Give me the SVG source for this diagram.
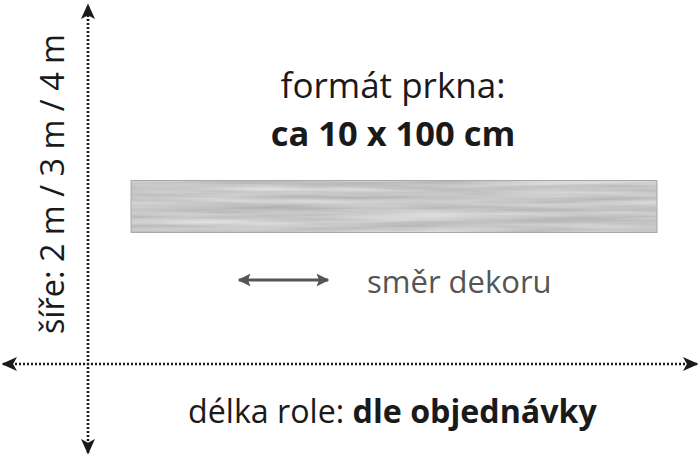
<svg xmlns="http://www.w3.org/2000/svg" width="700" height="459" viewBox="0 0 700 459">
<style>
.axis{stroke:#1a1a1a;stroke-width:2.6;stroke-dasharray:2 2;fill:none}
.t{font-family:"Open Sans","Liberation Sans",sans-serif;fill:#1a1a1a}
.b{font-weight:bold}
.g{fill:#555}
</style>
<defs>
<marker id="ah" viewBox="0 0 10 10" refX="9" refY="5" markerWidth="6" markerHeight="6" markerUnits="strokeWidth" orient="auto-start-reverse">
<path d="M0,0.5 L10,5 L0,9.5 L2.5,5 Z" fill="#1a1a1a"/>
</marker>
<marker id="gh" viewBox="0 0 10 10" refX="9" refY="5" markerWidth="4" markerHeight="4" markerUnits="strokeWidth" orient="auto-start-reverse">
<path d="M0,0 L10,5 L0,10 L2,5 Z" fill="#555"/>
</marker>
<filter id="wood" x="0" y="0" width="1" height="1" color-interpolation-filters="sRGB">
<feTurbulence type="fractalNoise" baseFrequency="0.006 0.16" numOctaves="3" seed="7" result="n"/>
<feColorMatrix in="n" type="matrix" values="0.25 0 0 0 0.66  0.25 0 0 0 0.66  0.25 0 0 0 0.66  0 0 0 0 1" result="c"/>
<feComposite in="c" in2="SourceGraphic" operator="in"/>
</filter>
</defs>
<g id="connectors">
<line class="axis" x1="88" y1="453" x2="88" y2="5" marker-end="url(#ah)" marker-start="url(#ah)"/>
<line class="axis" x1="3" y1="364" x2="697" y2="364" marker-end="url(#ah)" marker-start="url(#ah)"/>
<line x1="239" y1="280" x2="328" y2="280" stroke="#555" stroke-width="3.2" marker-end="url(#gh)" marker-start="url(#gh)"/>
</g>
<g id="plank">
<rect x="131" y="180" width="526" height="53" fill="#c8c8c8"/>
<rect x="131" y="180" width="526" height="53" fill="#c8c8c8" filter="url(#wood)"/>
<rect x="131" y="180.5" width="526" height="52" fill="none" stroke="#a8a8a8" stroke-width="1"/>
</g>
<g id="title">
<text class="t" x="393" y="98" font-size="35" text-anchor="middle">formát prkna:</text>
<text class="t b" x="393" y="146" font-size="34.5" text-anchor="middle">ca 10 x 100 cm</text>
</g>
<g id="direction">
<text class="t g" x="367" y="293" font-size="31">směr dekoru</text>
</g>
<g id="width-label">
<text class="t" transform="translate(64,184) rotate(-90)" font-size="32.4" text-anchor="middle">šíře: 2 m / 3 m / 4 m</text>
</g>
<g id="length-label">
<text class="t" x="188" y="423" font-size="32.2">délka role: <tspan class="b">dle objednávky</tspan></text>
</g>
</svg>
